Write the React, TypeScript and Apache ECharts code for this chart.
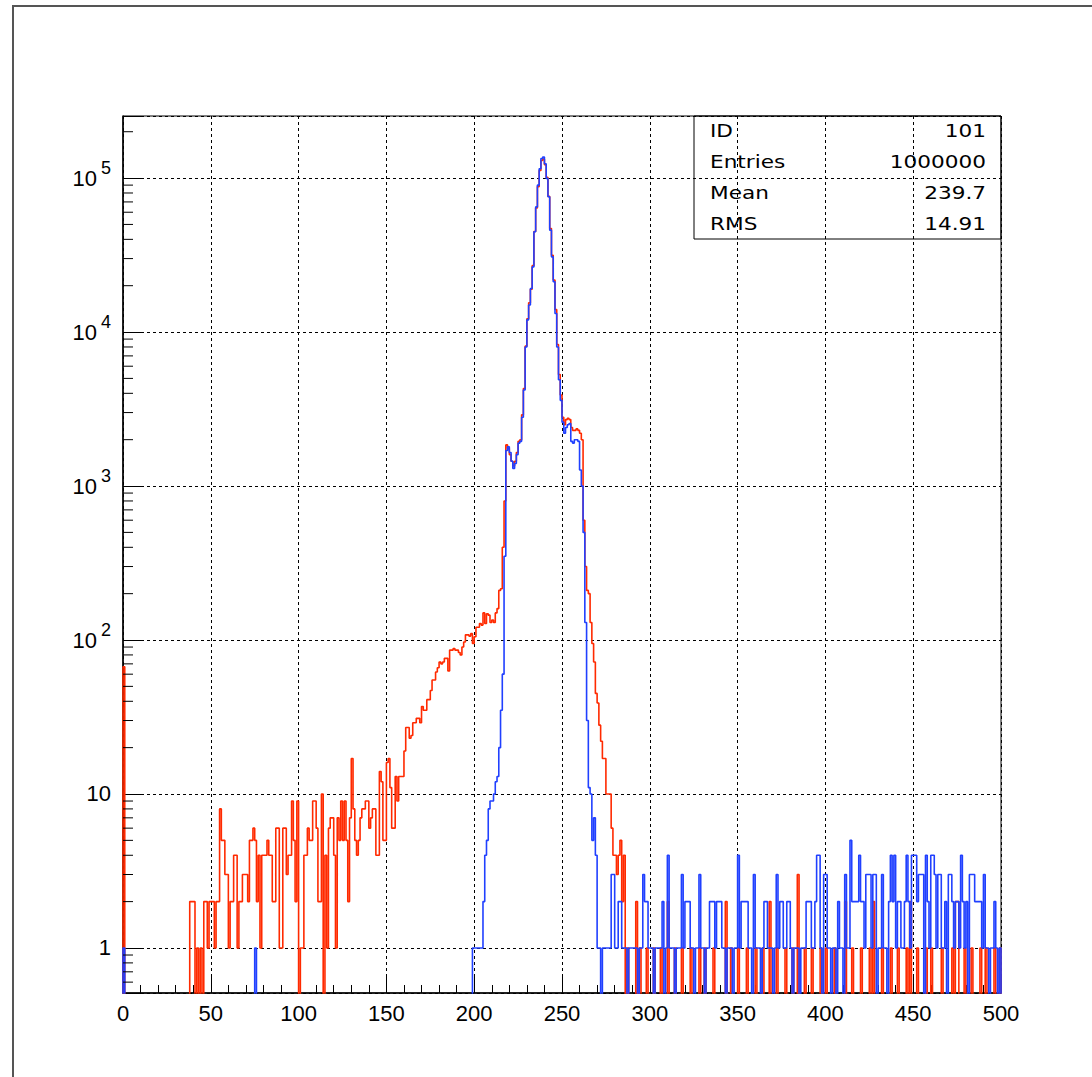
import React, { useEffect, useRef } from "react";
import * as echarts from "echarts";

// ---------------- data ----------------
// bin i covers [i, i+1); 500 bins from 0 to 500
const X_MIN = 0;
const X_MAX = 500;
const X_INTERVAL = 50;
const Y_MIN = 0.51;
const Y_MAX = 253000;

// red histogram counts, bins 0..499 (rows of 10)
const redCounts: number[] = [
  67, 0, 0, 0, 0, 0, 0, 0, 0, 0,
  0, 0, 0, 0, 0, 0, 0, 0, 0, 0,
  0, 0, 0, 0, 0, 0, 0, 0, 0, 0,
  0, 0, 0, 0, 0, 0, 0, 0, 2, 2,
  2, 0, 1, 0, 1, 0, 2, 2, 1, 2,
  2, 2, 1, 2, 2, 8, 5, 5, 3, 3,
  1, 2, 2, 4, 4, 1, 2, 2, 3, 3,
  3, 2, 5, 5, 6, 5, 2, 4, 1, 4,
  4, 4, 5, 4, 4, 2, 2, 6, 6, 1,
  1, 6, 6, 3, 4, 4, 9, 5, 2, 9,
  0, 1, 1, 4, 4, 6, 5, 5, 9, 9,
  6, 2, 2, 10, 0, 4, 1, 6, 7, 7,
  4, 1, 7, 5, 9, 5, 9, 5, 2, 7,
  17, 8, 5, 4, 5, 7, 8, 8, 9, 9,
  6, 7, 8, 8, 4, 4, 14, 12, 5, 5,
  16, 17, 11, 6, 6, 13, 9, 13, 13, 13,
  19, 27, 27, 23, 24, 29, 29, 31, 31, 29,
  37, 35, 35, 41, 41, 47, 55, 55, 62, 66,
  72, 70, 72, 76, 76, 63, 86, 86, 88, 86,
  86, 83, 80, 90, 97, 108, 108, 106, 110, 95,
  105, 121, 121, 128, 125, 150, 128, 148, 145, 130,
  135, 130, 150, 160, 210, 215, 400, 800, 1850, 1750,
  1600, 1450, 1350, 1450, 1650, 1950, 2000, 2900, 4300, 8100,
  12200, 15500, 19000, 27000, 45000, 64000, 88000, 112000, 130000, 133000,
  122000, 101000, 76000, 47000, 31500, 21800, 14000, 8300, 5300, 3900,
  2800, 2500, 2700, 2750, 2700, 2400, 2300, 2300, 2350, 2300,
  2200, 2000, 600, 300, 210, 200, 130, 95, 72, 45,
  39, 28, 22, 17, 17, 10, 10, 10, 6, 4,
  4, 3, 4, 5, 2, 4, 0, 1, 0, 0,
  0, 0, 2, 0, 1, 0, 0, 0, 1, 0,
  0, 0, 1, 0, 0, 0, 1, 0, 0, 0,
  2, 0, 0, 0, 1, 0, 0, 0, 1, 0,
  0, 0, 0, 1, 0, 0, 0, 0, 1, 0,
  0, 1, 0, 0, 0, 0, 1, 0, 0, 0,
  0, 0, 0, 2, 0, 0, 1, 0, 0, 0,
  1, 0, 0, 0, 0, 1, 0, 0, 0, 0,
  1, 0, 0, 0, 1, 0, 0, 0, 2, 0,
  0, 0, 1, 0, 0, 0, 0, 1, 0, 0,
  0, 1, 0, 0, 3, 0, 0, 0, 1, 0,
  0, 0, 1, 0, 0, 0, 0, 1, 0, 0,
  1, 0, 0, 0, 0, 1, 0, 0, 0, 0,
  0, 2, 0, 0, 0, 1, 0, 0, 0, 0,
  1, 0, 0, 0, 0, 1, 0, 2, 0, 0,
  0, 0, 1, 0, 0, 0, 0, 1, 0, 0,
  0, 1, 0, 0, 0, 0, 1, 0, 2, 0,
  0, 0, 1, 0, 0, 0, 0, 1, 0, 0,
  1, 0, 0, 0, 0, 0, 1, 0, 0, 0,
  0, 0, 1, 0, 2, 2, 0, 0, 0, 1,
  0, 0, 0, 1, 0, 0, 0, 0, 1, 0,
  0, 1, 0, 0, 0, 0, 1, 0, 0, 1,
];

// blue histogram counts, bins 0..499 (rows of 10)
const blueCounts: number[] = [
  1, 0, 0, 0, 0, 0, 0, 0, 0, 0,
  0, 0, 0, 0, 0, 0, 0, 0, 0, 0,
  0, 0, 0, 0, 0, 0, 0, 0, 0, 0,
  0, 0, 0, 0, 0, 0, 0, 0, 0, 0,
  0, 0, 0, 0, 0, 0, 0, 0, 0, 0,
  0, 0, 0, 0, 0, 0, 0, 0, 0, 0,
  0, 0, 0, 0, 0, 0, 0, 0, 0, 0,
  0, 0, 0, 0, 0, 1, 0, 0, 0, 0,
  0, 0, 0, 0, 0, 0, 0, 0, 0, 0,
  0, 0, 0, 0, 0, 0, 0, 0, 0, 0,
  0, 0, 0, 0, 0, 0, 0, 0, 0, 0,
  0, 0, 0, 0, 0, 0, 0, 0, 0, 0,
  0, 0, 0, 0, 0, 0, 0, 0, 0, 0,
  0, 0, 0, 0, 0, 0, 0, 0, 0, 0,
  0, 0, 0, 0, 0, 0, 0, 0, 0, 0,
  0, 0, 0, 0, 0, 0, 0, 0, 0, 0,
  0, 0, 0, 0, 0, 0, 0, 0, 0, 0,
  0, 0, 0, 0, 0, 0, 0, 0, 0, 0,
  0, 0, 0, 0, 0, 0, 0, 0, 0, 0,
  0, 0, 0, 0, 0, 0, 0, 0, 0, 1,
  1, 1, 1, 1, 1, 2, 4, 5, 8, 9,
  9, 10, 12, 13, 20, 35, 60, 350, 1700, 1800,
  1650, 1450, 1300, 1400, 1600, 1900, 1950, 2800, 4200, 8000,
  12000, 15000, 19200, 26500, 44800, 65000, 90000, 115000, 134000, 137000,
  124000, 99500, 75600, 45900, 30800, 21200, 13200, 8000, 4900, 3600,
  2600, 2200, 2400, 2500, 2550, 1950, 1900, 2000, 2000, 1950,
  1270, 1000, 500, 130, 30, 11, 10, 5, 7, 4,
  1, 1, 0, 1, 1, 1, 1, 1, 3, 3,
  1, 1, 2, 2, 1, 1, 1, 0, 1, 1,
  1, 1, 1, 0, 1, 1, 3, 2, 2, 1,
  1, 1, 0, 1, 1, 1, 1, 2, 0, 1,
  4, 1, 1, 1, 0, 1, 1, 1, 3, 1,
  2, 2, 2, 1, 1, 0, 1, 1, 3, 1,
  1, 0, 1, 1, 2, 2, 2, 1, 2, 2,
  2, 1, 1, 0, 1, 1, 1, 0, 1, 1,
  4, 1, 2, 2, 2, 2, 1, 1, 0, 3,
  1, 1, 1, 0, 1, 2, 2, 1, 1, 1,
  0, 1, 3, 1, 2, 2, 1, 1, 2, 2,
  1, 0, 1, 1, 1, 0, 1, 1, 1, 2,
  2, 2, 1, 1, 2, 4, 4, 1, 0, 3,
  3, 1, 1, 0, 1, 1, 0, 2, 1, 1,
  0, 3, 1, 1, 5, 2, 2, 2, 2, 4,
  2, 2, 1, 3, 3, 3, 1, 3, 3, 0,
  1, 1, 3, 1, 1, 0, 2, 4, 2, 4,
  1, 2, 2, 1, 1, 2, 4, 2, 1, 4,
  4, 4, 2, 3, 3, 3, 0, 4, 2, 1,
  4, 4, 3, 1, 3, 3, 1, 1, 2, 0,
  3, 3, 2, 1, 2, 2, 1, 4, 2, 1,
  2, 0, 3, 3, 3, 2, 2, 2, 2, 1,
  3, 1, 1, 0, 1, 1, 2, 1, 0, 1,
];

// y-axis minor tick positions (log decades 2..9)
const yMinorTickValues: number[] = [
  0.6, 0.7, 0.8, 0.9,
  2, 3, 4, 5, 6, 7, 8, 9,
  20, 30, 40, 50, 60, 70, 80, 90,
  200, 300, 400, 500, 600, 700, 800, 900,
  2000, 3000, 4000, 5000, 6000, 7000, 8000, 9000,
  20000, 30000, 40000, 50000, 60000, 70000, 80000, 90000,
  200000,
];

const statsLabels = ["ID", "Entries", "Mean", "RMS"];
const statsValues = ["101", "1000000", "239.7", "14.91"];

const RED = "#ff2a00";
const BLUE = "#2040ff";
const EMPTY = 0.3; // below the axis minimum: empty bins are clipped at the frame

function stepPoints(counts: number[]): number[][] {
  const pts: number[][] = [[X_MIN, EMPTY]];
  counts.forEach((c, i) => pts.push([X_MIN + i, c > 0 ? c : EMPTY]));
  const last = counts[counts.length - 1];
  pts.push([X_MIN + counts.length, last > 0 ? last : EMPTY]);
  pts.push([X_MIN + counts.length, EMPTY]);
  return pts;
}

export default function App() {
  const ref = useRef<HTMLDivElement>(null);

  useEffect(() => {
    document.body.style.margin = "0";
    if (!ref.current) return;
    const chart = echarts.init(ref.current, null, { renderer: "svg" });

    const gridLeft = 123;
    const gridTop = 116;
    const gridRight = 1001;
    const statsLeft = 694;
    const statsBottom = 239;
    const rowH = (statsBottom - gridTop) / statsLabels.length;

    const statsGraphics: any[] = [
      {
        type: "rect",
        shape: { x: statsLeft, y: gridTop, width: gridRight - statsLeft, height: statsBottom - gridTop },
        style: { fill: "none", stroke: "#000", lineWidth: 1 },
        silent: true,
        z: 100,
      },
    ];
    statsLabels.forEach((lab, i) => {
      const cy = gridTop + rowH * (i + 0.5);
      statsGraphics.push({
        type: "text",
        x: statsLeft + 16,
        y: cy,
        scaleX: 1.2,
        style: {
          text: lab,
          font: '18px "DejaVu Sans"',
          fill: "#000",
          textAlign: "left",
          textVerticalAlign: "middle",
        },
        silent: true,
        z: 100,
      });
      statsGraphics.push({
        type: "text",
        x: gridRight - 15,
        y: cy,
        scaleX: 1.2,
        style: {
          text: statsValues[i],
          font: '18px "DejaVu Sans"',
          fill: "#000",
          textAlign: "right",
          textVerticalAlign: "middle",
        },
        silent: true,
        z: 100,
      });
    });

    const option: any = {
      animation: false,
      backgroundColor: "#fff",
      grid: {
        left: gridLeft,
        top: gridTop,
        right: 1092 - gridRight,
        bottom: 1077 - 993,
        show: true,
        borderColor: "#000",
        borderWidth: 1,
        backgroundColor: "transparent",
      },
      xAxis: {
        type: "value",
        min: X_MIN,
        max: X_MAX,
        interval: X_INTERVAL,
        axisLine: { show: true, onZero: false, lineStyle: { color: "#000", width: 1.5 } },
        axisTick: { show: true, inside: true, length: 18, lineStyle: { color: "#000", width: 1 } },
        minorTick: { show: true, splitNumber: 5, length: 8, lineStyle: { color: "#000", width: 1 } },
        splitLine: { show: true, lineStyle: { color: "#000", width: 1, type: [3, 3] } },
        axisLabel: {
          color: "#000",
          fontSize: 22,
          fontFamily: '"Liberation Sans", Arial, sans-serif',
          margin: 9,
        },
      },
      yAxis: {
        type: "log",
        logBase: 10,
        min: Y_MIN,
        max: Y_MAX,
        axisLine: { show: true, onZero: false, lineStyle: { color: "#000", width: 1.5 } },
        axisTick: { show: true, inside: true, length: 20, lineStyle: { color: "#000", width: 1 } },
        minorTick: { show: false },
        splitLine: { show: true, lineStyle: { color: "#000", width: 1, type: [3, 3] } },
        axisLabel: {
          color: "#000",
          fontSize: 22,
          fontFamily: '"Liberation Sans", Arial, sans-serif',
          margin: 12,
          formatter: (v: number) => {
            const l = Math.log10(v);
            const e = Math.round(l);
            if (Math.abs(l - e) > 1e-6) return "";
            if (e === 0) return "1";
            if (e === 1) return "10";
            return "10{sup|" + e + "}";
          },
          rich: {
            sup: {
              fontSize: 18,
              fontFamily: '"Liberation Sans", Arial, sans-serif',
              color: "#000",
              padding: [0, 0, 20, 4],
            },
          },
        },
      },
      series: [
        {
          type: "line",
          step: "end",
          data: stepPoints(redCounts),
          showSymbol: false,
          symbol: "none",
          clip: true,
          lineStyle: { color: RED, width: 1.6 },
          z: 3,
        },
        {
          type: "line",
          step: "end",
          data: stepPoints(blueCounts),
          showSymbol: false,
          symbol: "none",
          clip: true,
          lineStyle: { color: BLUE, width: 1.6 },
          z: 4,
        },
        {
          type: "custom",
          data: yMinorTickValues.map((v) => [X_MIN, v]),
          clip: false,
          silent: true,
          z: 5,
          renderItem: (_params: any, api: any) => {
            const p = api.coord([X_MIN, api.value(1)]);
            return {
              type: "line",
              shape: { x1: p[0], y1: p[1], x2: p[0] + 10, y2: p[1] },
              style: { stroke: "#000", lineWidth: 1 },
            };
          },
        },
      ],
      graphic: [
        {
          type: "rect",
          shape: { x: 13, y: 6, width: 1200, height: 1200 },
          style: { fill: "none", stroke: "#555", lineWidth: 2 },
          silent: true,
          z: 100,
        },
        ...statsGraphics,
      ],
    };

    chart.setOption(option);
    return () => chart.dispose();
  }, []);

  return <div ref={ref} style={{ width: 1092, height: 1077 }} />;
}
